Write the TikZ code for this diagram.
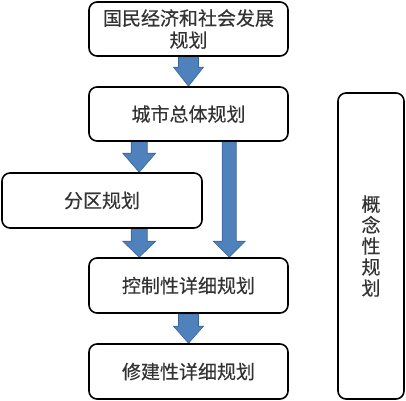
\documentclass[tikz,border=0pt]{standalone}
\usepackage{fontspec}
\newfontfamily\cjk[FakeBold=0.3]{Noto Sans CJK SC}
\usetikzlibrary{calc,backgrounds}
\definecolor{arrfill}{HTML}{4F81BD}
\definecolor{arrline}{HTML}{3A6495}
\definecolor{txt}{HTML}{333333}
\tikzset{
  box/.style={draw=black, line width=1.6pt, rounded corners=8pt, fill=white, inner sep=0pt,
    text=txt, font=\cjk\fontsize{19}{22}\selectfont, align=center},
  arr/.style={fill=arrfill, draw=arrline, line width=0.6pt},
}
\newcommand\blockarr[5]{%
  \filldraw[arr] let \p1=#1, \p2=#2 in
   (\x1-#3pt,\y1) -- (\x1-#3pt,\y2+#5pt) -- (\x1-#4pt,\y2+#5pt) -- (\x1,\y2)
   -- (\x1+#4pt,\y2+#5pt) -- (\x1+#3pt,\y2+#5pt) -- (\x1+#3pt,\y1) -- cycle;}
\begin{document}
\begin{tikzpicture}[x=1pt,y=1pt]
\useasboundingbox (0,0) rectangle (406,400);
% boxes
\node[box, minimum width=199pt, minimum height=54pt] (n1) at (188.5,371) {国民经济和社会发展\\规划};
\node[box, minimum width=199pt, minimum height=54pt] (n2) at (188.5,286) {城市总体规划};
\node[box, minimum width=200pt, minimum height=55pt] (n3) at (102,199.5) {分区规划};
\node[box, minimum width=199pt, minimum height=55pt] (n4) at (188.5,114.5) {控制性详细规划};
\node[box, minimum width=199pt, minimum height=55pt] (n5) at (188.5,28.5) {修建性详细规划};
\node[box, minimum width=66pt, minimum height=306pt, font=\cjk\fontsize{19}{21}\selectfont] (n6) at (371,154) {概\\念\\性\\规\\划};
% arrows behind the boxes
\begin{scope}[on background layer]
\blockarr{(n1.south)}{(n2.north)}{10}{15}{19}
\blockarr{($(n2.south west)+(51,0)$)}{($(n3.north west)+(138,0)$)}{8}{16.5}{19}
\blockarr{($(n2.south west)+(141,0)$)}{($(n4.north west)+(141,0)$)}{7}{16}{16}
\blockarr{($(n3.south west)+(138,0)$)}{($(n4.north west)+(51,0)$)}{8}{16.5}{16}
\blockarr{(n4.south)}{(n5.north)}{10}{15}{17}
\end{scope}
\end{tikzpicture}
\end{document}
